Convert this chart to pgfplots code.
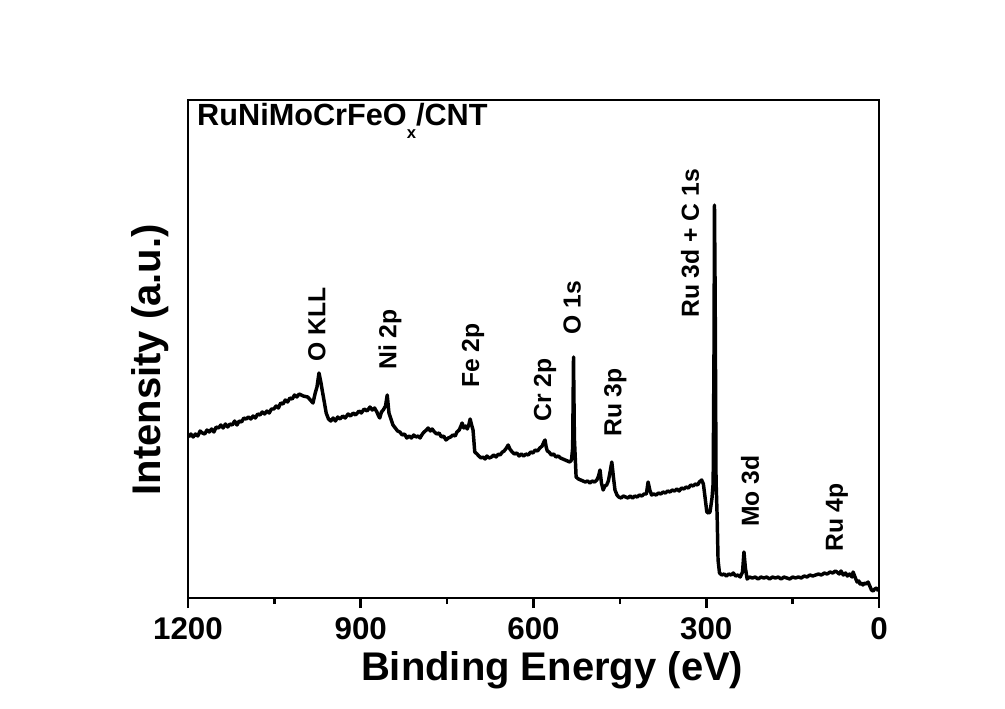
\documentclass[border=0pt]{standalone}
\usepackage{fontspec}
\setmainfont{Liberation Sans}
\usepackage{pgfplots}
\pgfplotsset{compat=1.18}
\begin{document}
\begin{tikzpicture}
\useasboundingbox (0pt,0pt) rectangle (753.75pt,531pt);
\begin{axis}[
  at={(141pt,82.5pt)}, anchor=south west,
  width=518.25pt, height=373.5pt, scale only axis,
  x dir=reverse,
  xmin=0, xmax=1200, ymin=0, ymax=498,
  xtick={0,300,600,900,1200},
  minor xtick={150,450,750,1050},
  ytick=\empty,
  xtick pos=left,
  tick align=outside,
  major tick length=7.5pt,
  minor tick length=4.5pt,
  every tick/.style={black, line width=2pt},
  axis line style={line width=2.2pt},
  /pgf/number format/assume math mode=true,
  /pgf/number format/set thousands separator={},
  xticklabel style={font=\fontsize{23.5}{23.5}\selectfont\bfseries, yshift=-4pt},
  xlabel={Binding Energy (eV)},
  xlabel style={font=\fontsize{30}{30}\selectfont\bfseries, at={(axis description cs:0.527,-0.166)}, anchor=base},
  ylabel={Intensity (a.u.)},
  ylabel style={font=\fontsize{30}{30}\selectfont\bfseries, at={(axis description cs:-0.055,0.478)}, anchor=center, rotate=0},
  clip=false,
]
\addplot[black, line width=2.6pt, line join=round] table {
E I
1199 161
1195 164
1191 161
1187 164
1183 162
1179 167
1175 165
1171 164
1167 168
1163 166
1159 169
1155 166
1151 171
1147 170
1143 173
1139 170
1135 174
1131 171
1127 174
1123 173
1119 177
1115 173
1111 177
1107 176
1103 180
1099 179
1095 181
1091 179
1087 182
1083 180
1079 184
1075 183
1071 186
1067 184
1063 187
1059 185
1055 189
1051 189
1047 192
1043 190
1039 195
1035 194
1031 198
1027 196
1023 200
1019 199
1015 203
1011 201
1007 204
1000 202
992 201
983 195
979 205
976 211
972.5 225
969 215
967 208
963 195
960 185
956 179
952 177
948 180
944 177
940 181
936 179
931 182
927 180
922 184
918 182
913 185
909 183
903 187
899 185
894 189
889 187
884 191
880 188
876 190
872 186
869 182
867 180
864 186
861 188
857 192
854 203
851 185
847 178
844 173
840 170
836 167
832 166
828 163
824 164
820 160
816 162
812 160
808 163
804 161
800 162
797 160
793 164
790 166
786 168
783 170
779 167
776 169
772 166
768 164
764 165
760 161
756 162
752 158
748 160
744 161
740 163
736 162
733 166
729 168
726 172
724 175
721 170
718 172
715 169
712 174
710 179
707 172
705 168
702 146
698 144
695 142
691 140
688 141
684 139
681 142
677 140
673 141
669 143
665 141
661 144
658 143
654 146
651 147
647 150
644 153
641 149
637 146
633 144
629 145
625 142
621 144
617 142
613 144
609 143
605 146
601 145
597 148
593 147
589 150
585 152
582 156
580 158
578 151
576 147
573 146
569 143
565 144
561 141
557 142
553 140
549 139
545 138
541 137
537 136
534 138
532 150
530.5 241
529 160
526 121
522 119
518 118
514 117
510 116
506 117
502 115
498 117
494 116
490 118
487 122
484.5 128
482 115
479 108
476 112
473 113
470 117
467 126
464 136
461 120
458.5 108
455 103
452 101
448 100
444 102
440 101
436 100
432 102
428 100
424 102
420 101
416 103
412 102
408 104
404 104
401 116
398 108
395 103
391 104
387 103
383 105
379 104
375 106
371 105
367 107
363 106
359 108
355 107
351 109
347 107
343 110
339 109
335 111
331 110
327 113
323 112
319 114
315 113
312 116
308 118
305 114
303 105
299 86
296 85
293.5 86
290 100
288 115
286.5 250
285.7 393
284.5 300
283 118
281 80
279.5 38
277 25
273 23
269 24
265 22
261 24
257 23
253 25
249 22
245 23
241 21
237 26
234.5 46
232 30
229 19
225 21
220 20
215 21
210 19
205 21
200 20
195 21
190 19
185 21
180 20
175 21
170 19
165 21
160 20
155 19
150 21
145 20
140 21
135 20
130 22
125 21
120 23
115 22
110 23
105 24
100 23
95 25
90 24
85 26
80 25
76 27
73 26
69 24
66 27
62 23
58 25
55 22
51 24
47 21
45 26
41 20
38 16
35 17
33 14
30 15
28 13
25 15
22 14
19 16
16 12
13 8
10 7
7.5 9
4 10
1 7
};
\node[anchor=base west, inner sep=0, font=\fontsize{23}{23}\selectfont\bfseries] at (axis description cs:0.013,0.9498) {RuNiMoCrFeO\raisebox{-0.45em}{\fontsize{12.5}{12.5}\selectfont x}/CNT};
\tikzset{pk/.style={rotate=90, anchor=west, inner sep=0, font=\fontsize{18.5}{18.5}\selectfont\bfseries}}
\node[pk] at (axis cs:976,236) {O KLL};
\node[pk] at (axis cs:849,228) {Ni 2p};
\node[pk] at (axis cs:705,210) {Fe 2p};
\node[pk] at (axis cs:580,176) {Cr 2p};
\node[pk] at (axis cs:533,263) {O 1s};
\node[pk] at (axis cs:458,161) {Ru 3p};
\node[pk] at (axis cs:328,280) {Ru 3d + C 1s};
\node[pk] at (axis cs:224,71) {Mo 3d};
\node[pk] at (axis cs:73,46) {Ru 4p};
\end{axis}
\end{tikzpicture}
\end{document}
